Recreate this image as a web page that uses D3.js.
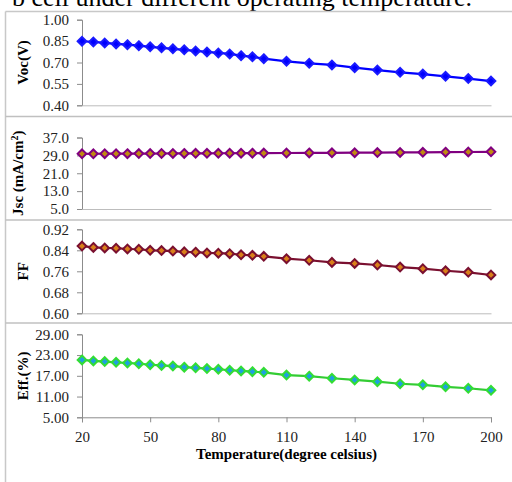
<!DOCTYPE html>
<html>
<head>
<meta charset="utf-8">
<script src="https://cdn.jsdelivr.net/npm/d3@7"></script>
<style>
  body { margin: 0; background: #fff; }
  svg { display: block; }
  svg text { font-family: 'Liberation Serif', 'Times New Roman', serif; }
</style>
</head>
<body>
<script>
// Solar cell parameters vs operating temperature

const temps = [20, 25, 30, 35, 40, 45, 50, 55, 60, 65, 70, 75, 80, 85, 90, 95, 100,
  110, 120, 130, 140, 150, 160, 170, 180, 190, 200]

const voc = [0.849, 0.844, 0.837, 0.830, 0.825, 0.818, 0.810, 0.803, 0.796, 0.789, 0.781, 0.774,
  0.767, 0.760, 0.748, 0.740, 0.727, 0.708, 0.694, 0.683, 0.664, 0.647, 0.631, 0.619, 0.603, 0.587, 0.570]

const jsc = [29.70, 29.72, 29.74, 29.76, 29.78, 29.80, 29.82, 29.84, 29.86, 29.88, 29.90, 29.92,
  29.94, 29.96, 29.98, 30.00, 30.02, 30.06, 30.10, 30.15, 30.20, 30.25, 30.32, 30.38, 30.45, 30.52, 30.60]

const ff = [0.856, 0.851, 0.849, 0.848, 0.845, 0.844, 0.840, 0.839, 0.837, 0.834, 0.833, 0.830,
  0.829, 0.827, 0.823, 0.821, 0.817, 0.808, 0.802, 0.794, 0.790, 0.784, 0.776, 0.770, 0.762, 0.756, 0.746]

const eff = [21.6, 21.3, 21.1, 20.9, 20.7, 20.5, 20.2, 20.0, 19.8, 19.5, 19.3, 19.1,
  18.9, 18.6, 18.4, 18.2, 18.0, 17.2, 16.9, 16.3, 15.8, 15.3, 14.7, 14.4, 13.8, 13.4, 12.8]

const xTicks = [20, 50, 80, 110, 140, 170, 200]

const panels = [
  { label: 'Voc(V)', values: voc, domain: [0.40, 1.00], ticks: [0.40, 0.55, 0.70, 0.85, 1.00], fmt: '.2f',
    range: [105.3, 19.7], line: '#0000ff', fill: '#0000ff', stroke: '#1a1aff' },
  { label: 'Jsc', values: jsc, domain: [5, 37], ticks: [5, 13, 21, 29, 37], fmt: '.1f',
    range: [209, 137.5], line: '#800080', fill: '#c08a10', stroke: '#800080' },
  { label: 'FF', values: ff, domain: [0.60, 0.92], ticks: [0.60, 0.68, 0.76, 0.84, 0.92], fmt: '.2f',
    range: [313.3, 229.3], line: '#7a1030', fill: '#d9801a', stroke: '#7a1030' },
  { label: 'Eff.(%)', values: eff, domain: [5, 29], ticks: [5, 11, 17, 23, 29], fmt: '.2f',
    range: [417.3, 334.3], line: '#33cc33', fill: '#1e9fe0', stroke: '#33dd33' }
]

const width = 512
const height = 482
const serif = "'Liberation Serif', 'Times New Roman', serif"

const svg = d3.select('body').append('svg')
  .attr('width', width)
  .attr('height', height)

svg.append('rect').attr('width', width).attr('height', height).attr('fill', '#fff')

// clipped caption from the page above the chart
svg.append('text')
  .attr('x', 472)
  .attr('y', 6)
  .attr('text-anchor', 'end')
  .attr('font-family', serif)
  .attr('font-size', '26px')
  .attr('fill', '#000')
  .text('b cell under different operating temperature.')

// panel frames
svg.append('line').attr('x1', 5.5).attr('x2', width).attr('y1', 11.5).attr('y2', 11.5)
  .attr('stroke', '#c8c8c8').attr('stroke-width', 1.5)
svg.append('line').attr('x1', 5.5).attr('x2', 5.5).attr('y1', 11.5).attr('y2', height)
  .attr('stroke', '#c8c8c8').attr('stroke-width', 1.5)
;[116.5, 220, 323].forEach(y => {
  svg.append('line').attr('x1', 5.5).attr('x2', width).attr('y1', y).attr('y2', y)
    .attr('stroke', '#c0c0c0').attr('stroke-width', 1.5)
})

const x = d3.scaleLinear().domain([20, 200]).range([82, 491])

const diamond = d3.symbol().type(d3.symbolDiamond2).size(48)

panels.forEach((p, i) => {
  const y = d3.scaleLinear().domain(p.domain).range(p.range)
  const g = svg.append('g')

  // y axis
  const yAxis = g.append('g')
    .attr('transform', `translate(${x(20)},0)`)
    .call(d3.axisLeft(y).tickValues(p.ticks).tickFormat(d3.format(p.fmt)).tickSize(5).tickPadding(8))
  yAxis.attr('font-family', serif)
  yAxis.select('.domain').attr('stroke', '#8c8c8c')
  yAxis.selectAll('.tick line').attr('stroke', '#8c8c8c')
  yAxis.selectAll('text').attr('font-family', serif).attr('font-size', '15px').attr('fill', '#222')

  // x axis
  const isLast = i === panels.length - 1
  const xAxis = g.append('g')
    .attr('transform', `translate(0,${p.range[0]})`)
    .call(d3.axisBottom(x).tickValues(isLast ? xTicks : []).tickSizeOuter(0).tickSize(isLast ? 5 : 0).tickPadding(9))
  xAxis.attr('font-family', serif)
  xAxis.select('.domain').attr('stroke', isLast ? '#8c8c8c' : '#bdbdbd')
  xAxis.selectAll('.tick line').attr('stroke', '#8c8c8c')
  xAxis.selectAll('text').attr('font-family', serif).attr('font-size', '15px').attr('fill', '#222')

  // y title
  const cy = (p.range[0] + p.range[1]) / 2
  const title = g.append('text')
    .attr('transform', `translate(${i === 1 ? 23 : 28},${cy}) rotate(-90)`)
    .attr('text-anchor', 'middle')
    .attr('font-family', serif)
    .attr('font-size', '15px')
    .attr('font-weight', 'bold')
    .attr('fill', '#000')
  if (i === 1) {
    title.append('tspan').text('Jsc (mA/cm')
    title.append('tspan').attr('baseline-shift', 'super').attr('font-size', '10px').text('2')
    title.append('tspan').text(')')
  } else {
    title.text(p.label)
  }

  // series line
  const pts = temps.map((t, k) => [t, p.values[k]])
  g.append('path')
    .datum(pts)
    .attr('fill', 'none')
    .attr('stroke', p.line)
    .attr('stroke-width', 2.2)
    .attr('d', d3.line().x(d => x(d[0])).y(d => y(d[1])))

  // markers
  g.selectAll('.mk')
    .data(pts)
    .enter()
    .append('path')
    .attr('transform', d => `translate(${x(d[0])},${y(d[1])})`)
    .attr('d', diamond)
    .attr('fill', p.fill)
    .attr('stroke', p.stroke)
    .attr('stroke-width', 2)
})

// x title
svg.append('text')
  .attr('x', (x(20) + x(200)) / 2)
  .attr('y', 459)
  .attr('text-anchor', 'middle')
  .attr('font-family', serif)
  .attr('font-size', '15px')
  .attr('font-weight', 'bold')
  .attr('fill', '#000')
  .text('Temperature(degree celsius)')
</script>
</body>
</html>
